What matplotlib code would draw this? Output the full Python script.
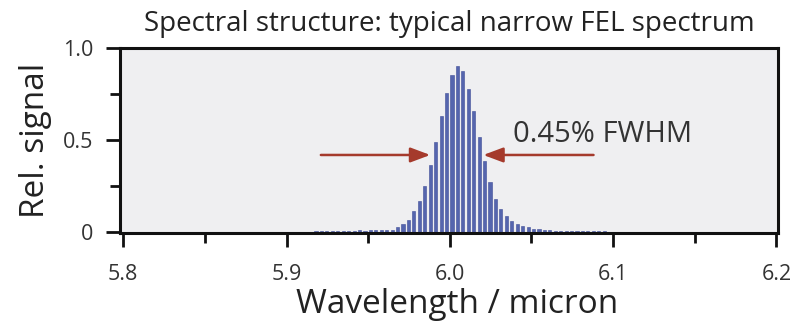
import numpy as np
import matplotlib
matplotlib.use('Agg')
import matplotlib.pyplot as plt
from matplotlib.ticker import MultipleLocator

plt.rcParams['font.family'] = ['Open Sans', 'DejaVu Sans']

# spectrum: evenly sampled lines, first line position and spacing (micron)
lam_start = 5.8015
lam_step = 0.00333
signal = (
    [0.004, 0.004, 0.005, 0.004, 0.004, 0.004, 0.005, 0.004, 0.004, 0.004,
     0.004, 0.005, 0.004, 0.004, 0.004, 0.004, 0.005, 0.004, 0.004, 0.004,
     0.004, 0.005, 0.004, 0.004, 0.004, 0.005, 0.004, 0.004, 0.005, 0.004,
     0.004, 0.005, 0.004, 0.005, 0.004]
    + [0.008, 0.006, 0.008, 0.007, 0.009, 0.008, 0.010, 0.009, 0.011, 0.010, 0.012, 0.012]
    + [0.012, 0.013, 0.015, 0.027, 0.048, 0.070, 0.115, 0.170, 0.250, 0.365,
       0.490, 0.630, 0.756, 0.855]
    + [0.900]
    + [0.873, 0.780, 0.660, 0.520, 0.385, 0.276, 0.183, 0.129, 0.088, 0.063,
       0.045, 0.034, 0.027, 0.020, 0.017, 0.014, 0.012, 0.010, 0.010]
    + [0.009, 0.008, 0.008, 0.007, 0.008, 0.006, 0.007, 0.006]
    + [0.004, 0.005, 0.004, 0.004, 0.004, 0.005, 0.004, 0.004, 0.004, 0.004,
       0.005, 0.004, 0.004, 0.004, 0.004, 0.005, 0.004, 0.004, 0.004, 0.004,
       0.005, 0.004, 0.004, 0.004, 0.005, 0.004, 0.004, 0.004, 0.004, 0.005,
       0.004]
)
wavelength = lam_start + lam_step * np.arange(len(signal))

# FWHM arrows (tail, tip) in data coords
arrow_y = 0.42
left_arrow = (5.921, 5.988)
right_arrow = (6.088, 6.0205)

x_ticks = [5.8, 5.9, 6.0, 6.1, 6.2]
x_ticklabels = ['5.8', '5.9', '6.0', '6.1', '6.2']
y_ticks = [0.0, 0.5, 1.0]
y_ticklabels = ['0', '0.5', '1.0']

fig = plt.figure(figsize=(7.96, 3.27), dpi=100)
ax = fig.add_axes([0.1508, 0.2875, 0.8266, 0.5657])
ax.set_facecolor('#efeff1')

ax.bar(wavelength, signal, width=0.0019, color='#5565ae', edgecolor='#3f4d96',
       linewidth=0.4, zorder=2)

for tail, tip in (left_arrow, right_arrow):
    ax.annotate('', xy=(tip, arrow_y), xytext=(tail, arrow_y),
                arrowprops=dict(arrowstyle='-|>,head_length=1.2,head_width=0.45',
                                color='#a53a2c', lw=1.8, shrinkA=0, shrinkB=0),
                zorder=3)
ax.text(6.0385, 0.53, '0.45% FWHM', fontsize=21, color='#333333',
        ha='left', va='center')

ax.set_xlim(5.798, 6.201)
ax.set_ylim(-0.003, 1.0)
ax.set_xticks(x_ticks)
ax.set_xticklabels(x_ticklabels)
ax.set_yticks(y_ticks)
ax.set_yticklabels(y_ticklabels)
ax.xaxis.set_minor_locator(MultipleLocator(0.05))
ax.yaxis.set_minor_locator(MultipleLocator(0.25))

ax.tick_params(axis='both', which='major', direction='out', length=10, width=2,
               color='#111111', labelsize=15.5, labelcolor='#333333')
ax.tick_params(axis='both', which='minor', direction='out', length=7, width=2,
               color='#111111')
ax.tick_params(axis='x', which='major', pad=12)
ax.tick_params(axis='y', which='major', pad=9)
for sp in ax.spines.values():
    sp.set_linewidth(2.2)
    sp.set_color('#111111')

ax.set_title('Spectral structure: typical narrow FEL spectrum', fontsize=20,
             color='#222222', pad=12)
ax.set_xlabel('Wavelength / micron', fontsize=24, color='#222222', labelpad=6)
ax.xaxis.set_label_coords(0.512, -0.30)
ax.set_ylabel('Rel. signal', fontsize=24, color='#222222', labelpad=8)

fig.savefig('out.png', dpi=100)
